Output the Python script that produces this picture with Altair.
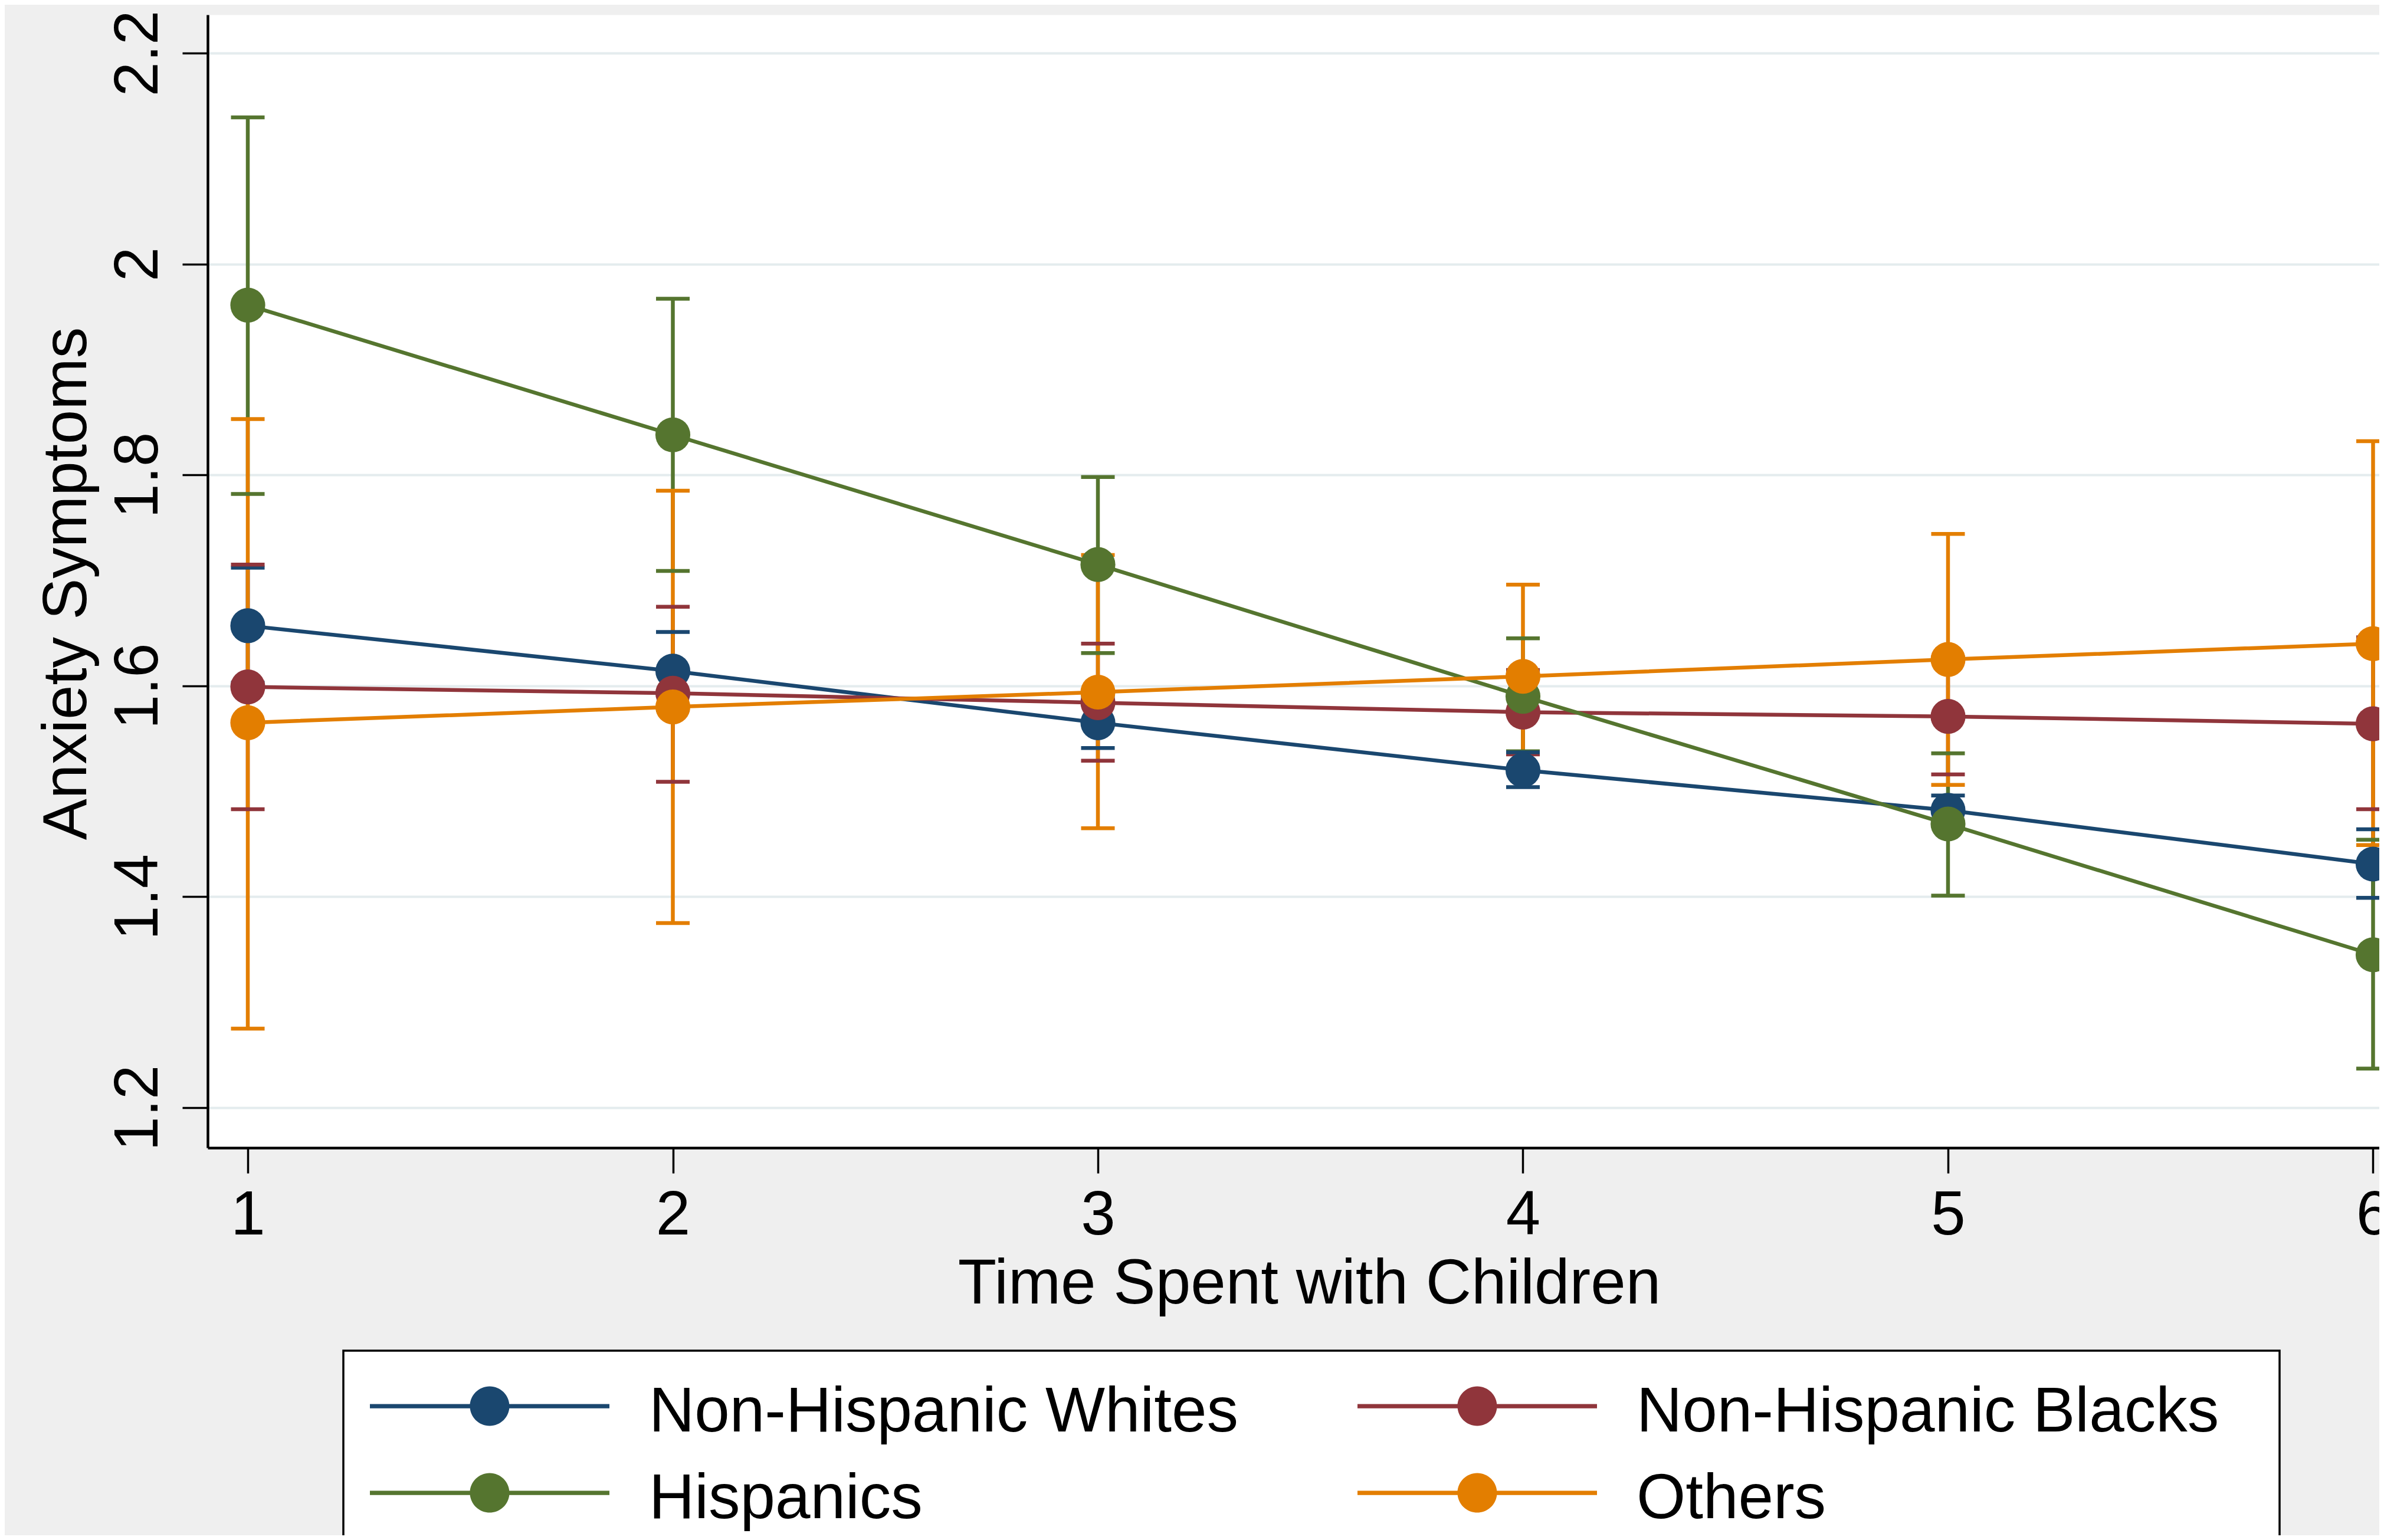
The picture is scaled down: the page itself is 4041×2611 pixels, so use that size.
import altair as alt
import pandas as pd

# ---------------- data ----------------
groups = ["Non-Hispanic Whites", "Non-Hispanic Blacks", "Hispanics", "Others"]
colors = ["#1a476f", "#90353b", "#55752f", "#e37e00"]
time_spent = [1, 2, 3, 4, 5, 6]

whites_mean = [1.657, 1.614, 1.565, 1.520, 1.482, 1.431]
whites_lo = [1.603, 1.577, 1.541, 1.504, 1.468, 1.399]
whites_hi = [1.712, 1.651, 1.589, 1.537, 1.496, 1.464]

blacks_mean = [1.599, 1.593, 1.584, 1.575, 1.571, 1.564]
blacks_lo = [1.483, 1.509, 1.529, 1.535, 1.516, 1.483]
blacks_hi = [1.715, 1.675, 1.640, 1.615, 1.627, 1.646]

hisp_mean = [1.961, 1.838, 1.715, 1.590, 1.469, 1.345]
hisp_lo = [1.782, 1.709, 1.631, 1.538, 1.401, 1.237]
hisp_hi = [2.139, 1.967, 1.798, 1.645, 1.536, 1.454]

others_mean = [1.565, 1.580, 1.594, 1.609, 1.625, 1.640]
others_lo = [1.275, 1.375, 1.465, 1.522, 1.506, 1.449]
others_hi = [1.853, 1.785, 1.724, 1.696, 1.744, 1.832]

y_ticks = [1.2, 1.4, 1.6, 1.8, 2.0, 2.2]

series = [
    (groups[0], whites_mean, whites_lo, whites_hi),
    (groups[1], blacks_mean, blacks_lo, blacks_hi),
    (groups[2], hisp_mean, hisp_lo, hisp_hi),
    (groups[3], others_mean, others_lo, others_hi),
]
rows = []
for name, m, lo, hi in series:
    for i, t in enumerate(time_spent):
        rows.append({"group": name, "time": t, "mean": m[i], "lo": lo[i], "hi": hi[i]})
df = pd.DataFrame(rows)

# ---------------- styling ----------------
FONT = "Liberation Sans"
LW = 6.5
x_scale = alt.Scale(domain=[0.9056, 6.0146], nice=False, zero=False)
y_scale = alt.Scale(domain=[1.16197, 2.23635], nice=False, zero=False)
color_scale = alt.Scale(domain=groups, range=colors)

x_axis = alt.Axis(
    values=time_spent, format="d", grid=False,
    domainColor="black", domainWidth=4.5,
    tickColor="black", tickWidth=3.5, tickSize=43,
    labelFont=FONT, labelFontSize=105, labelColor="black",
    labelAlign="center", labelBaseline="alphabetic", labelPadding=103,
    labelFlush=False, labelOverlap=False,
    titleFont=FONT, titleFontSize=107, titleFontWeight="normal", titleColor="black",
    titleAlign="center", titleBaseline="alphabetic", titleX=1867, titleY=263,
)
y_axis = alt.Axis(
    values=y_ticks, format=".1~f", grid=True, gridColor="#e4ecee", gridWidth=4,
    domainColor="black", domainWidth=4.5,
    tickColor="black", tickWidth=3.5, tickSize=43,
    labelFont=FONT, labelFontSize=105, labelColor="black",
    labelAngle=270, labelAlign="center", labelBaseline="alphabetic", labelPadding=43,
    labelFlush=False, labelOverlap=False,
    titleFont=FONT, titleFontSize=105, titleFontWeight="normal", titleColor="black",
    titleAngle=270, titleAlign="center", titleBaseline="alphabetic",
    titleX=-207, titleY=964,
)

X = alt.X("time:Q", scale=x_scale, axis=x_axis, title="Time Spent with Children")


def Y(field):
    return alt.Y(field + ":Q", scale=y_scale, axis=y_axis, title="Anxiety Symptoms")


color_nl = alt.Color("group:N", scale=color_scale, legend=None)

# legend symbol: a line with a filled circle (unit coordinates)
sym_path = (
    "M-1,-0.072 L1,-0.072 L1,-0.036 L-1,-0.036 Z "
    "M-0.165,-0.054 A0.165,0.165 0 1,1 0.165,-0.054 "
    "A0.165,0.165 0 1,1 -0.165,-0.054 Z"
)
legend = alt.Legend(
    title=" ", titleOrient="right", titlePadding=58, titleFontSize=1,
    orient="none", legendX=230, legendY=2265, columns=2, direction="horizontal",
    symbolType=sym_path, symbolSize=164836, symbolStrokeWidth=0, symbolOpacity=1,
    symbolOffset=0, labelOffset=67, columnPadding=202, rowPadding=27,
    clipHeight=120, padding=45, fillColor="white", strokeColor="black",
    labelFont=FONT, labelFontSize=107, labelColor="black", labelLimit=3000,
    labelBaseline="middle", gridAlign="each",
)
color_leg = alt.Color("group:N", scale=color_scale, legend=legend)

base = alt.Chart(df)

bars = base.mark_rule(strokeWidth=LW).encode(x=X, y=Y("lo"), y2="hi:Q", color=color_nl)
cap_lo = base.mark_tick(orient="horizontal", size=57, thickness=LW, opacity=1).encode(
    x=X, y=Y("lo"), color=color_nl)
cap_hi = base.mark_tick(orient="horizontal", size=57, thickness=LW, opacity=1).encode(
    x=X, y=Y("hi"), color=color_nl)
lines = base.mark_line(strokeWidth=LW).encode(x=X, y=Y("mean"), color=color_nl)
points = base.mark_circle(size=3500, opacity=1).encode(x=X, y=Y("mean"), color=color_leg)

chart = alt.layer(bars, cap_lo, cap_hi, lines, points).resolve_legend(
    color="independent"
).properties(
    width=3681, height=1921,
    autosize=alt.AutoSizeParams(type="none"),
    padding={"left": 344, "top": 17, "right": 0, "bottom": 657},
    background="#efefef",
).configure_view(fill="white", stroke="transparent").configure_legend(strokeWidth=3.5)

chart.save("out.html", embed_options={"renderer": "svg", "actions": False})
